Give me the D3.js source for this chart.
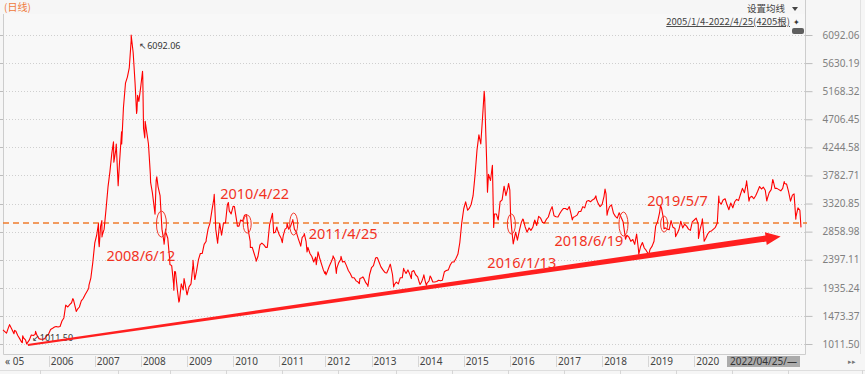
<!DOCTYPE html>
<html>
<head>
<meta charset="utf-8">
<script src="https://cdn.jsdelivr.net/npm/d3@7"></script>
<style>
  body { margin: 0; background: #f6f6f6; }
  svg { display: block; font-family: "Noto Sans", "Liberation Sans", sans-serif; }
</style>
</head>
<body>
<svg id="chart" width="865" height="374"></svg>
<script>
const c2005 = [1260, 1220, 1190, 1280, 1310, 1250, 1180, 1220, 1150, 1100, 1040, 1110, 1080, 1030, 1080, 1160, 1150, 1170, 1150, 1100, 1090, 1090, 1100, 1150];
const c2006 = [1180, 1250, 1270, 1290, 1300, 1290, 1300, 1390, 1440, 1650, 1620, 1660, 1690, 1740, 1600, 1580, 1620, 1720, 1760, 1820, 1880, 1980, 2100, 2350];
const c2007 = [2675, 2800, 2700, 2950, 2800, 2900, 3250, 3600, 3850, 4150, 4000, 4200, 3800, 4000, 4500, 4900, 5300, 5400, 5550, 6000, 5800, 5300, 4850, 5000];
const c2008 = [5260, 5400, 4400, 4500, 4300, 3800, 3500, 3250, 3700, 3600, 3450, 2900, 2700, 2850, 2750, 2400, 2300, 2000, 2200, 1900, 1720, 2000, 1900, 2000];
const c2009 = [1820, 1950, 2000, 2300, 2100, 2200, 2400, 2500, 2500, 2650, 2700, 2900, 3000, 3200, 3400, 2900, 2700, 3000, 2800, 3000, 3000, 3300, 3200, 3150];
const c2010 = [3277, 3200, 2990, 2950, 3050, 3030, 3130, 3140, 2870, 2700, 2600, 2500, 2400, 2450, 2640, 2670, 2640, 2600, 2650, 2970, 3100, 2900, 2850, 2900];
const c2011 = [2808, 2750, 2790, 2900, 2920, 2900, 2950, 3040, 2900, 2850, 2740, 2650, 2760, 2800, 2700, 2600, 2500, 2450, 2360, 2440, 2470, 2430, 2330, 2230];
const c2012 = [2199, 2200, 2290, 2360, 2430, 2400, 2260, 2350, 2400, 2360, 2370, 2300, 2220, 2170, 2100, 2100, 2050, 2030, 2090, 2100, 2090, 2020, 1980, 2150];
const c2013 = [2269, 2300, 2420, 2430, 2360, 2280, 2230, 2190, 2180, 2250, 2300, 2150, 1990, 2030, 2000, 2100, 2100, 2230, 2170, 2230, 2150, 2200, 2220, 2150];
const c2014 = [2116, 2010, 2030, 2120, 2050, 2010, 2050, 2110, 2030, 2030, 2040, 2060, 2050, 2060, 2200, 2220, 2230, 2310, 2360, 2360, 2420, 2490, 2680, 3000];
const c2015 = [3235, 3350, 3210, 3250, 3310, 3450, 3800, 4200, 4450, 4300, 4800, 5050, 4050, 3800, 3700, 3950, 3150, 3150, 3050, 3350, 3380, 3600, 3450, 3580];
const c2016 = [3540, 2900, 2700, 2850, 2720, 2870, 3010, 3060, 2940, 2850, 2920, 2880, 2930, 3050, 2960, 3110, 3080, 3010, 3000, 3060, 3100, 3200, 3270, 3120];
const c2017 = [3104, 3100, 3160, 3210, 3240, 3240, 3220, 3270, 3140, 3090, 3110, 3130, 3190, 3190, 3270, 3250, 3360, 3370, 3350, 3380, 3400, 3400, 3320, 3270];
const c2018 = [3307, 3440, 3480, 3200, 3270, 3300, 3160, 3110, 3080, 3170, 3090, 3020, 2800, 2800, 2770, 2700, 2730, 2650, 2820, 2560, 2610, 2680, 2590, 2550];
const c2019 = [2494, 2570, 2620, 2700, 2950, 3020, 3170, 3250, 3080, 2920, 2900, 2890, 3040, 2930, 2910, 2820, 2890, 3030, 2920, 2980, 2950, 2900, 2880, 3020];
const c2020 = [3050, 3080, 2980, 2900, 3010, 2800, 2750, 2820, 2860, 2870, 2900, 2930, 3000, 3350, 3310, 3380, 3400, 3300, 3220, 3330, 3250, 3350, 3390, 3370];
const c2021 = [3473, 3570, 3500, 3650, 3510, 3420, 3440, 3400, 3450, 3520, 3600, 3560, 3590, 3540, 3400, 3500, 3550, 3700, 3570, 3570, 3550, 3530, 3570, 3650];
const c2022 = [3640, 3520, 3360, 3460, 3480, 3100, 3250, 3210];

// turning points between the sample dates
const keyPoints = [
  ["2005-01-04", 1242.77], ["2005-02-25", 1330], ["2005-04-06", 1235], ["2005-06-06", 1034], ["2005-06-09", 1146],
  ["2005-07-11", 1011.50], ["2005-09-19", 1220], ["2005-10-28", 1092], ["2005-12-30", 1161],
  ["2006-05-12", 1600], ["2006-07-11", 1757], ["2006-08-07", 1546], ["2006-11-14", 1930],
  ["2007-01-30", 2990], ["2007-02-05", 2612], ["2007-02-26", 3040], ["2007-02-27", 2771],
  ["2007-05-29", 4335], ["2007-06-20", 4300], ["2007-07-05", 3615], ["2007-08-02", 4300],
  ["2007-10-16", 6092.06], ["2007-11-28", 4803], ["2007-12-06", 5100],
  ["2008-01-14", 5497], ["2008-01-22", 4559], ["2008-02-04", 4672], ["2008-03-18", 3668],
  ["2008-04-22", 3147], ["2008-05-06", 3761], ["2008-07-03", 2651], ["2008-07-15", 2900],
  ["2008-08-18", 2319], ["2008-09-18", 1895], ["2008-09-24", 2201], ["2008-10-28", 1700],
  ["2008-12-08", 2087], ["2008-12-31", 1821],
  ["2009-02-17", 2389], ["2009-03-03", 2071], ["2009-06-01", 2722], ["2009-08-04", 3471],
  ["2009-08-31", 2667], ["2009-11-24", 3338],
  ["2010-01-11", 3273], ["2010-02-03", 2950], ["2010-05-17", 2597], ["2010-07-02", 2373],
  ["2010-09-28", 2600], ["2010-11-08", 3159], ["2010-11-17", 2838], ["2010-12-13", 2936],
  ["2011-01-25", 2677], ["2011-03-04", 2996], ["2011-04-18", 3057], ["2011-06-20", 2621],
  ["2011-07-18", 2826], ["2011-08-09", 2526], ["2011-10-21", 2317], ["2011-11-04", 2528],
  ["2011-12-28", 2170],
  ["2012-01-06", 2148], ["2012-03-02", 2460], ["2012-03-28", 2173], ["2012-05-04", 2452],
  ["2012-09-26", 2004], ["2012-10-24", 2115], ["2012-12-03", 1959],
  ["2013-02-06", 2434], ["2013-04-22", 2184], ["2013-05-29", 2324], ["2013-06-25", 1950],
  ["2013-09-12", 2255], ["2013-11-12", 2087],
  ["2014-01-20", 1991], ["2014-02-19", 2150], ["2014-03-11", 1974], ["2014-04-10", 2130],
  ["2015-06-12", 5166], ["2015-07-08", 3507], ["2015-08-26", 2927], ["2015-11-17", 3604],
  ["2015-12-22", 3651], ["2016-01-07", 3125], ["2016-01-28", 2656], ["2016-04-13", 3066],
  ["2017-05-10", 3052], ["2017-11-13", 3447],
  ["2018-01-24", 3559], ["2018-02-09", 3129], ["2018-07-05", 2733], ["2018-10-18", 2486],
  ["2019-01-03", 2464], ["2019-04-08", 3288], ["2019-05-06", 2906], ["2019-08-06", 2777],
  ["2020-02-03", 2746], ["2020-03-05", 3071], ["2020-03-19", 2702], ["2020-07-13", 3443],
  ["2021-02-18", 3696], ["2021-03-09", 3360], ["2021-07-28", 3362], ["2021-09-13", 3715],
  ["2021-12-13", 3681], ["2022-03-15", 3064], ["2022-04-25", 2928.51]
];

const yearlyCloses = [
  [2005, c2005], [2006, c2006], [2007, c2007], [2008, c2008], [2009, c2009], [2010, c2010],
  [2011, c2011], [2012, c2012], [2013, c2013], [2014, c2014], [2015, c2015], [2016, c2016],
  [2017, c2017], [2018, c2018], [2019, c2019], [2020, c2020], [2021, c2021], [2022, c2022]
];

const yTickValues = [6092.06, 5630.19, 5168.32, 4706.45, 4244.58, 3782.71, 3320.85, 2858.98, 2397.11, 1935.24, 1473.37, 1011.50];
const yearTicks = [2006, 2007, 2008, 2009, 2010, 2011, 2012, 2013, 2014, 2015, 2016, 2017, 2018, 2019, 2020];
const refLevel = 3000;
const peak = { date: "2007-10-16", value: 6092.06 };
const trough = { date: "2005-07-11", value: 1011.50 };
const annotations = [
  { date: "2008-06-12", label: "2008/6/12" },
  { date: "2010-04-22", label: "2010/4/22" },
  { date: "2011-04-25", label: "2011/4/25" },
  { date: "2016-01-13", label: "2016/1/13" },
  { date: "2018-06-19", label: "2018/6/19" },
  { date: "2019-05-07", label: "2019/5/7" }
];
const trendFrom = { date: "2005-07-20", value: 995 };
const trendTo = { date: "2021-11-15", value: 2780 };

// layout for the hand-drawn marks (label offsets from the circled point)
const annoLayout = [
  { dx: -55, dy: 37, rx: 5, ry: 13 },
  { dx: -27, dy: -25, rx: 4, ry: 9 },
  { dx: 15, dy: 15, rx: 4, ry: 11 },
  { dx: -24, dy: 44, rx: 4, ry: 10 },
  { dx: -69, dy: 22, rx: 4.5, ry: 12 },
  { dx: -17, dy: -18, rx: 3.5, ry: 8 }
];

const parse = d3.timeParse("%Y-%m-%d");
const sampled = yearlyCloses.flatMap(([yr, arr]) =>
  arr.map((v, i) => ({ date: new Date(yr, i >> 1, i % 2 ? 16 : 1), value: v }))
);
const series = sampled
  .concat(keyPoints.map(([d, v]) => ({ date: parse(d), value: v })))
  .filter((d) => d.date >= parse("2005-01-04") && d.date <= parse("2022-04-25"))
  .sort((a, b) => a.date - b.date);

const W = 865;
const H = 374;
const plot = { left: 3, right: 805, top: 14, bottom: 354 };

const svg = d3.select("#chart");

const x = d3.scaleTime()
  .domain([parse("2005-01-04"), parse("2022-04-25")])
  .range([plot.left, 801]);
const y = d3.scaleLinear()
  .domain([1011.50, 6092.06])
  .range([344, 35]);

// panel backgrounds
svg.append("rect").attr("width", W).attr("height", H).attr("fill", "#f6f6f6");
svg.append("rect")
  .attr("x", plot.left).attr("y", plot.top)
  .attr("width", plot.right - plot.left).attr("height", plot.bottom - plot.top)
  .attr("fill", "#f8f8f8");

// dotted grid
svg.append("g")
  .selectAll("line")
  .data(yTickValues)
  .join("line")
  .attr("x1", plot.left).attr("x2", plot.right)
  .attr("y1", (d) => Math.round(y(d)) + 0.5).attr("y2", (d) => Math.round(y(d)) + 0.5)
  .attr("stroke", "#cfcfcf")
  .attr("stroke-dasharray", "1,2");

// frame
svg.append("path")
  .attr("d", `M${plot.left + 0.5},${plot.top}V${plot.bottom + 0.5}H${plot.right + 0.5}V0`)
  .attr("fill", "none")
  .attr("stroke", "#cdcdcd");
svg.append("line")
  .attr("x1", 860.5).attr("x2", 860.5).attr("y1", 0).attr("y2", plot.bottom)
  .attr("stroke", "#e2e2e2");

// right value axis
const yAxis = d3.axisRight(y)
  .tickValues(yTickValues)
  .tickSize(7)
  .tickPadding(10)
  .tickFormat(d3.format(".2f"));
const gy = svg.append("g")
  .attr("transform", `translate(${plot.right + 0.5},0)`)
  .call(yAxis);
gy.select(".domain").remove();
gy.selectAll(".tick line").attr("stroke", "#bdbdbd");
gy.selectAll(".tick text")
  .attr("fill", "#808080")
  .attr("font-size", 10)
  .attr("font-family", "Noto Sans, Liberation Sans, sans-serif");

// left stubs
svg.append("g")
  .selectAll("line")
  .data(yTickValues)
  .join("line")
  .attr("x1", 0).attr("x2", plot.left)
  .attr("y1", (d) => Math.round(y(d)) + 0.5).attr("y2", (d) => Math.round(y(d)) + 0.5)
  .attr("stroke", "#bdbdbd");

// bottom year axis
const gx = svg.append("g");
const yearDates = yearTicks.map((yr) => new Date(yr, 0, 1));
gx.selectAll("line")
  .data(yearDates)
  .join("line")
  .attr("x1", (d) => Math.round(x(d)) + 0.5).attr("x2", (d) => Math.round(x(d)) + 0.5)
  .attr("y1", 356).attr("y2", 367)
  .attr("stroke", "#d6d6d6");
gx.selectAll("text")
  .data(yearDates)
  .join("text")
  .attr("x", (d) => x(d) + 2)
  .attr("y", 365)
  .attr("font-size", 10)
  .attr("fill", "#444")
  .text((d) => d3.timeFormat("%Y")(d));
gx.append("text")
  .attr("x", 5).attr("y", 365)
  .attr("font-size", 10).attr("fill", "#444")
  .text("\u00ab 05");
svg.append("line")
  .attr("x1", 0).attr("x2", W).attr("y1", 370.5).attr("y2", 370.5)
  .attr("stroke", "#dedede");
svg.append("g")
  .selectAll("line")
  .data([40, 118, 170, 226, 282, 338, 396, 452, 508, 564, 620, 676, 732, 788, 862])
  .join("line")
  .attr("x1", (d) => d + 0.5).attr("x2", (d) => d + 0.5)
  .attr("y1", 370).attr("y2", 374)
  .attr("stroke", "#d6d6d6");

// current date chip
svg.append("rect")
  .attr("x", 727).attr("y", 356).attr("width", 73).attr("height", 11)
  .attr("fill", "#ababab");
svg.append("text")
  .attr("x", 730).attr("y", 365)
  .attr("font-size", 10).attr("fill", "#333")
  .text("2022/04/25/\u2014");
svg.append("text")
  .attr("x", 848).attr("y", 364)
  .attr("font-size", 7).attr("fill", "#777")
  .text("\u25b8\u25b8");

// reference level
svg.append("line")
  .attr("x1", plot.left).attr("x2", plot.right + 2)
  .attr("y1", y(refLevel)).attr("y2", y(refLevel))
  .attr("stroke", "#f07c2c")
  .attr("stroke-width", 1.6)
  .attr("stroke-dasharray", "6,4");

// price line
const line = d3.line()
  .x((d) => x(d.date))
  .y((d) => y(d.value));
svg.append("path")
  .datum(series)
  .attr("d", line)
  .attr("fill", "none")
  .attr("stroke", "#ff0000")
  .attr("stroke-width", 1.1)
  .attr("stroke-linejoin", "round");

// high / low markers
svg.append("text")
  .attr("x", x(parse(peak.date)) + 8).attr("y", y(peak.value) + 14)
  .attr("font-size", 9).attr("fill", "#333")
  .text(`\u2196${peak.value.toFixed(2)}`);
svg.append("text")
  .attr("x", x(parse(trough.date)) + 5).attr("y", y(trough.value) - 3)
  .attr("font-size", 9).attr("fill", "#333")
  .text(`\u2199${trough.value.toFixed(2)}`);

// circled crossings and their dates
const anno = svg.append("g");
annotations.forEach((a, i) => {
  const cx = x(parse(a.date));
  const cy = y(refLevel) + 1;
  const l = annoLayout[i];
  anno.append("ellipse")
    .attr("cx", cx).attr("cy", cy)
    .attr("rx", l.rx).attr("ry", l.ry)
    .attr("fill", "none")
    .attr("stroke", "#f2392a")
    .attr("stroke-width", 1);
  anno.append("text")
    .attr("x", cx + l.dx).attr("y", cy + l.dy)
    .attr("font-size", 14.5)
    .attr("fill", "#f2321f")
    .text(a.label);
});

// rising trend arrow
const sx = x(parse(trendFrom.date));
const sy = y(trendFrom.value);
const tx = x(parse(trendTo.date));
const ty = y(trendTo.value);
const len = Math.hypot(tx - sx, ty - sy);
const ux = (tx - sx) / len;
const uy = (ty - sy) / len;
const nx = -uy;
const ny = ux;
const headLen = 15;
const hx = tx - ux * headLen;
const hy = ty - uy * headLen;
const pts = [
  [sx + nx * 1, sy + ny * 1],
  [hx + nx * 3, hy + ny * 3],
  [hx + nx * 6.5, hy + ny * 6.5],
  [tx, ty],
  [hx - nx * 6.5, hy - ny * 6.5],
  [hx - nx * 3, hy - ny * 3],
  [sx - nx * 1, sy - ny * 1]
];
svg.append("polygon")
  .attr("points", pts.map((p) => p.join(",")).join(" "))
  .attr("fill", "#ff1f1f");

// header texts
svg.append("text")
  .attr("x", 4).attr("y", 11)
  .attr("font-family", "Noto Sans CJK SC, sans-serif")
  .attr("font-size", 10).attr("fill", "#f07a3c")
  .text("(日线)");
svg.append("text")
  .attr("x", 785).attr("y", 12)
  .attr("text-anchor", "end")
  .attr("font-family", "Noto Sans CJK SC, sans-serif")
  .attr("font-size", 9.5).attr("fill", "#444")
  .text("设置均线");
svg.append("path")
  .attr("d", "M792,7h6l-3,4z")
  .attr("fill", "#444");
svg.append("text")
  .attr("x", 790).attr("y", 25)
  .attr("text-anchor", "end")
  .attr("font-family", "Noto Sans CJK SC, sans-serif")
  .attr("font-size", 9.5).attr("fill", "#444")
  .attr("text-decoration", "underline")
  .text("2005/1/4-2022/4/25(4205根)");
svg.append("text")
  .attr("x", 793).attr("y", 25)
  .attr("font-size", 8).attr("fill", "#333")
  .text("\u2726");
svg.append("rect")
  .attr("x", 792).attr("y", 28).attr("width", 12).attr("height", 6).attr("rx", 2)
  .attr("fill", "#5f5f5f");
</script>
</body>
</html>
